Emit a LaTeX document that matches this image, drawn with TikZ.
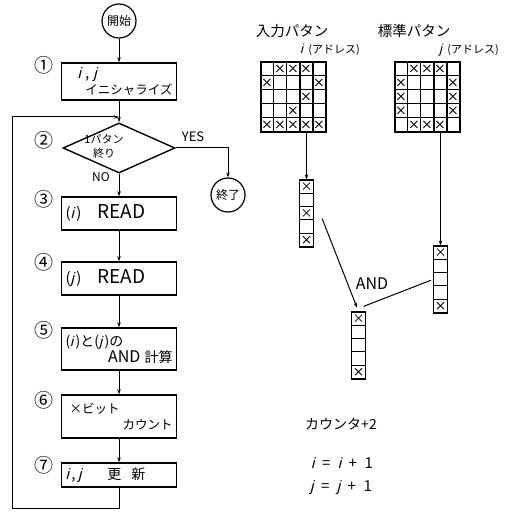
\documentclass[tikz,border=0pt]{standalone}
\usepackage{fontspec}
\setmainfont{Noto Sans CJK JP}
\newfontfamily\slf{Liberation Sans}[FakeSlant=0.25]
\usetikzlibrary{arrows.meta,positioning,shapes.geometric,calc}
\newcommand\latbig{\fontsize{19}{19}\selectfont}
\newcommand\andbig{\fontsize{16}{16}\selectfont}
\newcommand\kjbig{\fontsize{14}{16}\selectfont}
\newcommand\vi{{\slf i}}
\newcommand\vj{{\slf j}}

\begin{document}
\begin{tikzpicture}[
      x=1pt,y=-1pt,
      font=\fontsize{12.5}{16}\selectfont,
      box/.style={draw,line width=1.4pt,minimum width=115pt,minimum height=33pt,
                  inner xsep=4pt,text width=107pt,align=left},
      term/.style={draw,line width=1.2pt,circle,minimum size=34pt,inner sep=0pt,
                   font=\fontsize{12}{12}\selectfont},
      dec/.style={draw,line width=1.4pt,diamond,minimum width=112pt,
                  minimum height=50pt,inner sep=0pt},
      num/.style={font=\fontsize{19}{19}\selectfont},
      bigtxt/.style={font=\andbig},
      smtxt/.style={font=\fontsize{11}{11}\selectfont},
      arr/.style={-{Stealth[length=5pt,width=3.5pt]},line width=1pt},
      ln/.style={line width=1pt},
      pgrid/.style={draw,line width=1.2pt,minimum width=65pt,minimum height=70pt,inner sep=0pt},
      hcol/.style={draw,line width=2pt,minimum width=13pt,minimum height=70pt,inner sep=0pt},
      strip/.style={draw,line width=1.2pt,minimum width=14pt,minimum height=67pt,inner sep=0pt},
      xm/.style={line width=0.8pt},
    ]
    \useasboundingbox (0,0) rectangle (504,513);

    % flowchart
    \node[term] (st) at (119,21) {開始};
    \node[box,minimum height=37pt] (b1) at (119,81.5)
          {\hspace*{12pt}{\fontsize{15}{16}\selectfont\vi\ ,\ \vj}\\\hspace*{\stretch{1}}イニシャライズ};
    \node[dec] (d2) at (119,148) {};
    \node[align=center,font=\fontsize{11}{14}\selectfont] (dt) at (104,146) {1パタン\\終り};
    \node[box] (b3) at (119,213.5) {{\fontsize{15}{16}\selectfont(\vi\,)}\hspace*{16pt}{\latbig READ}};
    \node[box] (b4) at (119,278.5) {{\fontsize{15}{16}\selectfont(\vj\,)}\hspace*{16pt}{\latbig READ}};
    \node[box,minimum height=42pt] (b5) at (119,349)
          {{\fontsize{14}{16}\selectfont(\vi\,)と(\vj\,)の}\\\hspace*{\stretch{1}}{\andbig AND} {\kjbig 計算}\hspace*{2pt}};
    \node[box,minimum height=43pt] (b6) at (119,416.5)
          {\hspace*{4pt}×ビット\\\hspace*{\stretch{1}}カウント\hspace*{10pt}};
    \node[box,minimum height=24pt] (b7) at (119,475)
          {{\fontsize{15}{16}\selectfont\vi\,,\,\vj}\hspace*{26pt}{\kjbig 更\hspace*{10pt}新}};
    \node[term] (en) at (228,195) {終了};

    % step numbers
    \node[num] (n1) at (44,65) {①};
    \node[num] (n2) at (44,140) {②};
    \node[num] (n3) at (44,199) {③};
    \node[num] (n4) at (44,262) {④};
    \node[num] (n5) at (44,330) {⑤};
    \node[num] (n6) at (44,400) {⑥};
    \node[num] (n7) at (44,465) {⑦};

    \coordinate (mrg) at (119,117);
    \coordinate (lpB) at (12,508);
    \draw[arr] (st) -- (b1);
    \draw[arr] (b1) -- (d2);
    \draw[arr] (d2) -- (b3);
    \draw[arr] (b3) -- (b4);
    \draw[arr] (b4) -- (b5);
    \draw[arr] (b5) -- (b6);
    \draw[arr] (b6) -- (b7);
    \draw[arr] (d2.east) -| (en);
    \draw[arr] (b7.south) |- (lpB) |- (mrg);
    \node[font=\fontsize{13}{13}\selectfont] (yes) at (193,137) {YES};
    \node[font=\fontsize{12}{12}\selectfont] (no) at (101,177) {NO};

    % input and standard patterns
    \node[font=\fontsize{14.5}{15}\selectfont] (tI) at (292,31) {入力パタン};
    \node[smtxt] (aI) at (330,50) {{\fontsize{13}{13}\selectfont\vi}\enspace(アドレス)};
    \node[font=\fontsize{14.5}{15}\selectfont] (tJ) at (414,31) {標準パタン};
    \node[smtxt] (aJ) at (469,50) {{\fontsize{13}{13}\selectfont\vj}\enspace(アドレス)};
    \node[pgrid] (gI) at (293.5,97) {};
    \node[pgrid] (gJ) at (427.5,97) {};
    \foreach \g in {gI,gJ}{
      \foreach \k in {1,...,4}{
        \draw[thin] ($(\g.north west)+(13*\k,0)$) -- ($(\g.south west)+(13*\k,0)$);
        \draw[thin] ($(\g.north west)+(0,14*\k)$) -- ($(\g.north east)+(0,14*\k)$);
      }
    }
    \foreach \r/\cs in {1/{2,3,4},2/{1,5},3/{4},4/{3},5/{1,2,3,4,5}}
      \foreach \c in \cs
        \draw[xm] ($(gI.north west)+(13*\c-6.5,14*\r-7)$)
              +(-3.5,-3.5) -- +(3.5,3.5) +(-3.5,3.5) -- +(3.5,-3.5);
    \foreach \r/\cs in {1/{2,3,4},2/{1,5},3/{1,5},4/{1,5},5/{2,3,4}}
      \foreach \c in \cs
        \draw[xm] ($(gJ.north west)+(13*\c-6.5,14*\r-7)$)
              +(-3.5,-3.5) -- +(3.5,3.5) +(-3.5,3.5) -- +(3.5,-3.5);
    \node[hcol] (hI) at (306.5,97) {};
    \node[hcol] (hJ) at (440.5,97) {};

    % bit columns
    \node[strip] (sI) at (306.5,213.5) {};
    \node[strip] (sJ) at (440.5,279.5) {};
    \node[strip] (sA) at (358.5,345.5) {};
    \foreach \s/\cs in {sI/{1,3,5},sJ/{1,5},sA/{1,5}}{
      \foreach \k in {1,...,4}
        \draw[thin] ($(\s.north west)+(0,13.4*\k)$) -- ($(\s.north east)+(0,13.4*\k)$);
      \foreach \c in \cs
        \draw[xm] ($(\s.north)+(0,13.4*\c-6.7)$)
              +(-3.5,-3.5) -- +(3.5,3.5) +(-3.5,3.5) -- +(3.5,-3.5);
    }
    \draw[arr] (hI) -- (sI);
    \draw[arr] (hJ) -- (sJ);
    \coordinate (aS) at ($(sI.east)+(8,5)$);
    \coordinate (aE) at ($(sA.north)+(5,-5)$);
    \draw[arr,shorten >=4pt] (aS) -- (sA.north);
    \draw[ln,shorten <=2pt] (sJ.west) -- (aE);
    \node[bigtxt] (andL) at (372,284) {AND};

    % counter update
    \node[font=\fontsize{14}{14}\selectfont] (cnt) at (341,424) {カウンタ+2};
    \node[font=\fontsize{15}{15}\selectfont] (ui) at (342,463) {\vi\enspace=\enspace\vi\enspace+\enspace1};
    \node[font=\fontsize{15}{15}\selectfont] (uj) at (341,488) {\vj\enspace=\enspace\vj\enspace+\enspace1};
\end{tikzpicture}
\end{document}
